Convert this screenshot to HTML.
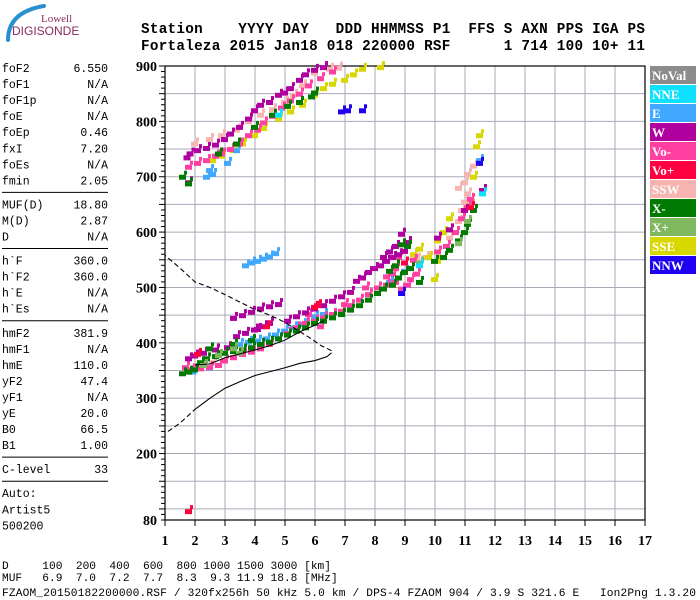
<!DOCTYPE html>
<html><head><meta charset="utf-8"><style>
html,body{margin:0;padding:0;background:#fff;}
svg{display:block;}
.mono{font-family:"Liberation Mono",monospace;}
.serif{font-family:"Liberation Serif",serif;}
</style></head><body>
<svg id="c" width="700" height="600" viewBox="0 0 700 600" xmlns="http://www.w3.org/2000/svg">
<g>
<path d="M8,40 Q8,12 44,6" stroke="#2a8fd0" stroke-width="4" fill="none" stroke-linecap="round"/>
<text x="41" y="22" style="font-family:'Liberation Serif',serif" font-size="11" fill="#8a2a5a">Lowell</text>
<text x="12" y="35" style="font-family:'Liberation Sans',sans-serif" font-size="12" fill="#8a2a5a">DIGISONDE</text>
</g>
<g class="mono" font-size="14.3" font-weight="bold" fill="#000">
<text x="141" y="33" xml:space="preserve" textLength="504">Station    YYYY DAY   DDD HHMMSS P1  FFS S AXN PPS IGA PS</text>
<text x="141" y="50" xml:space="preserve" textLength="504">Fortaleza 2015 Jan18 018 220000 RSF      1 714 100 10+ 11</text>
</g>
<g id="left" class="mono" font-size="11.5" fill="#000"></g>
<g id="plot"></g>
<g id="legend"></g>
<g class="mono" font-size="11.2" fill="#000">
<text x="2" y="569" xml:space="preserve">D     100  200  400  600  800 1000 1500 3000 [km]</text>
<text x="2" y="581" xml:space="preserve">MUF   6.9  7.0  7.2  7.7  8.3  9.3 11.9 18.8 [MHz]</text>
<text x="2" y="596" xml:space="preserve" textLength="694">FZAOM_20150182200000.RSF / 320fx256h 50 kHz 5.0 km / DPS-4 FZAOM 904 / 3.9 S 321.6 E   Ion2Png 1.3.20</text>
</g>
</svg>
<script>
const NS="http://www.w3.org/2000/svg";
const xTicks=[1,2,3,4,5,6,7,8,9,10,11,12,13,14,15,16,17];
const yTicks=[80,200,300,400,500,600,700,800,900];
const legendLabels=["NoVal","NNE","E","W","Vo-","Vo+","SSW","X-","X+","SSE","NNW"];
const legendColors=["#8c8c8c","#10e0ff","#40a8ff","#b000a0","#ff40a0","#ff0040","#f8b4b0","#007a00","#80b860","#d8d800","#2000f0"];
const params=[["foF2","6.550"],["foF1","N/A"],["foF1p","N/A"],["foE","N/A"],["foEp","0.46"],["fxI","7.20"],["foEs","N/A"],["fmin","2.05"],null,["MUF(D)","18.80"],["M(D)","2.87"],["D","N/A"],null,["h`F","360.0"],["h`F2","360.0"],["h`E","N/A"],["h`Es","N/A"],null,["hmF2","381.9"],["hmF1","N/A"],["hmE","110.0"],["yF2","47.4"],["yF1","N/A"],["yE","20.0"],["B0","66.5"],["B1","1.00"],null,["C-level","33"],null,["Auto:",""],["Artist5",""],["500200",""]];
// echo points [freq MHz, virtual height km]
const ptsW=[[1.75,735],[1.85,742],[1.8,690],[2.1,748],[2.4,752],[2.7,758],[3,768],[3.2,778],[3.5,790],[3.8,805],[4,820],[4.2,830],[4.5,835],[4.8,848],[5,852],[5.2,860],[5.5,875],[5.7,885],[6,893],[6.3,898],
[1.8,372],[2,377],[2.3,382],[2.7,388],[3.1,392],[3.4,412],[3.7,418],[4,424],[4.3,430],[4.5,436],[3.3,445],[3.6,450],[3.9,456],[4.2,462],[4.5,466],[4.8,470],[4.1,425],
[5.1,440],[5.4,448],[5.7,455],[6,462],[6.3,468],[6.6,476],[6.9,484],[7.2,492],[7.4,512],[7.6,518],[7.8,528],[8,535],[8.2,540],[8.4,548],[8.6,555],[8.8,560],[9,566],[8.9,597],[9.1,582],[8.7,575],[8.5,565],[8.3,555],[10.1,590],[10.5,605],[11,640],[11.6,676]];
const ptsVm=[[1.8,718],[2.1,725],[2.4,730],[2.7,738],[2.9,742],[3.2,750],[3.5,760],[3.8,775],[4.1,785],[4.3,798],[4.6,810],[4.9,825],[5.2,838],[5.5,850],[5.8,865],[6.2,878],[6.6,890],
[1.7,356],[1.9,352],[2.2,354],[2.5,356],[2.8,360],[3,368],[3.3,374],[3.6,380],[3.9,384],[4.2,390],[4.5,398],[4.8,408],[5.1,418],[5.4,428],[5.7,436],[6,440],[6.3,446],[6.6,452],[6.9,458],[7.2,468],[7.5,478],[7.8,488],[8.1,500],[8.4,505],[8.7,510],[8.9,498],[9.2,515],[9.4,525],[8.7,535],[9,545],[9.3,550],[8.8,555],[8.6,525],[9.1,505],[8.4,520],[10.1,565],[10.4,575],[10.7,600],[10.9,625],[11.1,645],[11.2,660],[5.8,452],[6.2,430],[7,470],[7.7,500]];
const ptsXm=[[1.6,345],[1.8,348],[2,352],[2.2,365],[2.4,372],[2.7,376],[3,382],[3.3,385],[3.6,388],[3.9,392],[4.2,398],[4.5,402],[4.8,408],[5.1,415],[5.4,422],[5.7,428],[6,436],[6.3,440],[6.6,446],[6.9,452],[7.2,460],[7.5,468],[7.8,478],[8.1,490],[8.3,498],[8.6,505],[8.8,518],[9,528],[9.2,535],[9.5,510],[8.9,578],[9.1,575],[8.7,540],[8.5,530],[10,548],[10.3,555],[10.5,568],[10.8,585],[11,600],[11.1,615],[11.3,640],[2.5,390],[3.3,398],[3.9,405],
[1.6,700],[1.8,688],[2.8,742],[3.4,760],[4,790],[4.6,812],[5.1,828],[5.5,835],[5.9,845],[6,852]];
const ptsE=[[2.4,700],[2.6,705],[2.5,712],[3.1,725],[3.4,748],[1.95,348],[2.5,355],[3.5,398],[3.8,402],[4.1,404],[4.4,408],[4.7,415],[5,422],[5.3,428],[5.6,434],[6,448],[6.3,452],[3.7,540],[3.9,545],[4.1,548],[4.3,552],[4.5,556],[4.7,562],[8.5,510],[9,530],[11.5,730],[6.9,455]];
const ptsSSW=[[2,760],[2.5,768],[2.9,775],[3.4,785],[3.8,800],[4.2,812],[4.6,822],[5,835],[5.3,848],[5.6,865],[6,888],[6.5,895],[6.8,897],[10.5,590],[10.7,600],[10.8,620],[10.9,640],[11,655],[10.8,680],[11,690],[11.1,705],[11.3,720],[11.1,670],[9.4,552],[9.7,555],[2.6,365]];
const ptsSSE=[[2.6,730],[2.9,738],[3.3,748],[3.6,760],[4,775],[4.3,788],[4.8,805],[5.2,818],[5.6,830],[6,848],[6.3,860],[6.6,868],[7,875],[7.3,885],[7.6,895],[8.2,898],[10,515],[10.1,548],[10.1,585],[10.3,600],[10.5,625],[11.2,650],[11.3,700],[11.4,755],[11.5,775],[9.3,560],[9.8,555],[9.5,570]];
const ptsXp=[[2.3,360],[2.8,378],[3.3,390],[3.5,382],[10.8,580],[11.1,620],[9.5,545]];
const ptsVp=[[1.8,96],[2.1,380],[4.4,430],[6,465],[6.1,468],[9,545],[11.2,645]];
const ptsNNW=[[6.9,818],[7.1,820],[7.6,820],[11.5,725],[8.9,490]];
const ptsNNE=[[9.5,540],[11.6,670],[4.8,812]];
const profSolid=[[2,280],[2.5,300],[3,318],[3.5,330],[4,341],[4.5,348],[5,355],[5.5,363],[6,368],[6.4,375],[6.55,382]];
const profDash1=[[1.1,240],[1.5,255],[2,280]];
const profDash2=[[6.55,386],[6.2,395],[5.8,410],[5,437],[4.5,450],[4,460],[3,487],[2.5,500],[2,510],[1.5,535],[1,558]];
const traceLine=[[2,360],[2.5,362],[3,373],[3.5,380],[4,387],[4.5,395],[5,405],[5.5,420],[6,432],[6.3,440]];

const X0=165,X1=645,Y0=520,Y1=66;
const xs=f=>X0+(f-1)*(X1-X0)/16;
const ys=h=>Y0-(h-80)*(Y0-Y1)/820;
const plot=document.getElementById('plot');
function el(tag,attrs,parent){const e=document.createElementNS(NS,tag);for(const k in attrs)e.setAttribute(k,attrs[k]);parent.appendChild(e);return e;}

for(let f=1;f<=17;f++){const l=el('line',{x1:xs(f),x2:xs(f),y1:Y1,y2:Y0,stroke:'#a8aab8','stroke-width':1},plot);

}
for(let h=100;h<=900;h+=50){const l=el('line',{x1:X0,x2:X1,y1:ys(h),y2:ys(h),stroke:'#a8aab8','stroke-width':1},plot);

}
const fr=el('rect',{x:X0,y:Y1,width:X1-X0,height:Y0-Y1,fill:'none',stroke:'#000','stroke-width':1.2},plot);


for(let h=80;h<=900;h+=10){const t=el('line',{x1:X0-(h%50===0?6:4),x2:X0,y1:ys(h),y2:ys(h),stroke:'#000'},plot);

}
yTicks.forEach(h=>{const t=el('text',{x:X0-8,y:ys(h)+5,'text-anchor':'end','font-size':14,'font-weight':'bold',class:'serif'},plot);t.textContent=h;

});
xTicks.forEach(f=>{const k=el('line',{x1:xs(f),x2:xs(f),y1:Y0,y2:Y0+6,stroke:'#000'},plot);


const t=el('text',{x:xs(f),y:Y0+25,'text-anchor':'middle','font-size':14,'font-weight':'bold',class:'serif'},plot);t.textContent=f;

});

const series=[[ptsSSW,"#f8b4b0","ssw"],[ptsSSE,"#d8d800","sse"],[ptsE,"#40a8ff","e"],[ptsVm,"#ff40a0","vo-minus"],[ptsW,"#b000a0","w"],[ptsXm,"#007a00","x-minus"],[ptsXp,"#80b860","x-plus"],[ptsVp,"#ff0040","vo-plus"],[ptsNNW,"#2000f0","nnw"],[ptsNNE,"#10e0ff","nne"]];
series.forEach(([pts,col,nm])=>{pts.forEach(([f,h])=>{
 const r=el('rect',{x:xs(f)-4,y:ys(h)-2,width:7,height:5,fill:col},plot);
 
 
 const r2=el('rect',{x:xs(f)+1,y:ys(h)-6,width:3,height:4,fill:col},plot);
 
 
});});

function poly(pts,attrs,name){const p=el('polyline',Object.assign({points:pts.map(([f,h])=>xs(f)+','+ys(h)).join(' '),fill:'none',stroke:'#000'},attrs),plot);

}
poly(profSolid,{'stroke-width':1.1},'profile-solid');
poly(profDash1,{'stroke-width':1.1,'stroke-dasharray':'5,3'},'profile-dashed-low');
poly(profDash2,{'stroke-width':1.1,'stroke-dasharray':'5,3'},'profile-dashed-top');
poly(traceLine,{'stroke-width':1},'trace-line');

const lg=document.getElementById('legend');
legendLabels.forEach((lab,i)=>{const y=66+i*19;
 const r=el('rect',{x:650,y:y,width:46,height:18,fill:legendColors[i]},lg);
 
 
 const t=el('text',{x:652,y:y+14,'font-size':13,'font-weight':'bold',fill:'#fff',class:'serif'},lg);t.textContent=lab;
 
 });

const lp=document.getElementById('left');
let y=72;
params.forEach(p=>{
 if(p===null){const l=el('line',{x1:2,x2:108,y1:y-8,y2:y-8,stroke:'#000','stroke-width':1},lp);
  
  
  y+=8;return;}
 const a=el('text',{x:2,y:y},lp);a.textContent=p[0];
 
 
 if(p[1]){const b=el('text',{x:108,y:y,'text-anchor':'end'},lp);b.textContent=p[1];
 
 }
 y+=16.05;});
</script>
</body></html>
